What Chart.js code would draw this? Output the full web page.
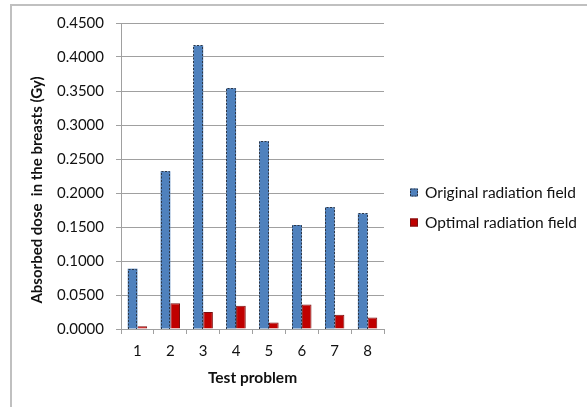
<!DOCTYPE html>
<html>
<head>
<meta charset="utf-8">
<script src="https://cdn.jsdelivr.net/npm/chart.js@4/dist/chart.umd.min.js"></script>
<style>
  html, body { margin: 0; padding: 0; background: #fff; }
  #wrap { position: relative; width: 587px; height: 407px; }
</style>
</head>
<body>
<div id="wrap"><canvas id="c" width="587" height="407"></canvas></div>
<script>
// Absorbed dose per test problem, two radiation field setups
const categories = ['1', '2', '3', '4', '5', '6', '7', '8'];
const originalField = [0.0887, 0.232, 0.417, 0.354, 0.276, 0.153, 0.179, 0.170];
const optimalField = [0.004, 0.038, 0.025, 0.0343, 0.0097, 0.036, 0.021, 0.017];
const seriesNames = ['Original radiation field', 'Optimal radiation field'];
const yTitle = 'Absorbed dose  in the breasts (Gy)';
const xTitle = 'Test problem';

const FONT = 'Lato, "Open Sans", sans-serif';
const GRID = '#a0a0a0';
const BLUE = '#4f81bd';
const RED = '#c00000';
const TEXT = '#111111';

// Outer frame: only top and left edges visible
const framePlugin = {
  id: 'frame',
  beforeDraw(chart) {
    const ctx = chart.ctx;
    ctx.save();
    ctx.fillStyle = '#fff';
    ctx.fillRect(0, 0, chart.width, chart.height);
    ctx.strokeStyle = '#c0c0c0';
    ctx.lineWidth = 2;
    ctx.beginPath();
    ctx.moveTo(11, chart.height);
    ctx.lineTo(11, 5);
    ctx.lineTo(chart.width, 5);
    ctx.stroke();
    ctx.restore();
  }
};

// Dotted outline around the blue bars
const dashedOutline = {
  id: 'dashedOutline',
  afterDatasetsDraw(chart) {
    const ctx = chart.ctx;
    const meta = chart.getDatasetMeta(0);
    ctx.save();
    ctx.strokeStyle = '#2c3646';
    ctx.lineWidth = 1;
    ctx.setLineDash([2, 1.5]);
    meta.data.forEach(bar => {
      const p = bar.getProps(['x', 'y', 'base', 'width'], true);
      const l = Math.round(p.x - p.width / 2) + 0.5;
      const r = Math.round(p.x + p.width / 2) - 0.5;
      const t = Math.round(p.y) + 0.5;
      const b = Math.round(p.base);
      ctx.beginPath();
      ctx.moveTo(l, b);
      ctx.lineTo(l, t);
      ctx.lineTo(r, t);
      ctx.lineTo(r, b);
      ctx.stroke();
    });
    ctx.restore();
  }
};

// Axis titles and the side legend
const labelsPlugin = {
  id: 'sideLabels',
  afterDraw(chart) {
    const ctx = chart.ctx;
    const area = chart.chartArea;
    ctx.save();
    ctx.fillStyle = TEXT;
    ctx.font = 'bold 15px ' + FONT;
    ctx.textAlign = 'center';
    ctx.textBaseline = 'middle';
    ctx.save();
    ctx.translate(37, 190);
    ctx.rotate(-Math.PI / 2);
    ctx.fillText(yTitle, 0, 0);
    ctx.restore();
    ctx.font = 'bold 15.5px ' + FONT;
    ctx.fillText(xTitle, (area.left + area.right) / 2, 378);

    // legend
    ctx.font = '15.5px ' + FONT;
    ctx.textAlign = 'left';
    const rows = [192.5, 222.5];
    chart.data.datasets.forEach((ds, i) => {
      const y = rows[i];
      ctx.fillStyle = ds.backgroundColor;
      ctx.fillRect(410, y - 4, 8, 8);
      ctx.lineWidth = 1;
      if (i === 0) {
        ctx.strokeStyle = '#2c3646';
        ctx.setLineDash([2, 1]);
      } else {
        ctx.strokeStyle = '#7a1010';
        ctx.setLineDash([]);
      }
      ctx.strokeRect(410.5, y - 3.5, 7, 7);
      ctx.setLineDash([]);
      ctx.fillStyle = TEXT;
      ctx.fillText(ds.label, 425, y + 0.5);
    });
    ctx.restore();
  }
};

new Chart(document.getElementById('c'), {
  type: 'bar',
  data: {
    labels: categories,
    datasets: [
      {
        label: seriesNames[0],
        data: originalField,
        backgroundColor: BLUE,
        borderWidth: 0
      },
      {
        label: seriesNames[1],
        data: optimalField,
        backgroundColor: RED,
        borderColor: '#7a1010',
        borderWidth: 1
      }
    ]
  },
  options: {
    responsive: false,
    animation: false,
    devicePixelRatio: 1,
    layout: { padding: { top: 23, right: 203, bottom: 0, left: 0 } },
    datasets: {
      bar: { categoryPercentage: 0.59, barPercentage: 1 }
    },
    plugins: {
      legend: { display: false },
      tooltip: { enabled: false },
      title: { display: false }
    },
    scales: {
      x: {
        grid: {
          display: true,
          drawOnChartArea: false,
          drawTicks: true,
          tickLength: 5,
          color: GRID,
          offset: true
        },
        border: { color: GRID, width: 1 },
        ticks: {
          color: TEXT,
          font: { family: FONT, size: 15 },
          padding: 8
        },
        afterFit(scale) { scale.height = 78; }
      },
      y: {
        min: 0,
        max: 0.45,
        grid: {
          color: GRID,
          tickLength: 5,
          drawTicks: true
        },
        border: { color: GRID, width: 1 },
        ticks: {
          stepSize: 0.05,
          color: TEXT,
          font: { family: FONT, size: 15 },
          padding: 12,
          callback: v => Number(v).toFixed(4)
        },
        afterFit(scale) { scale.width = 121; }
      }
    }
  },
  plugins: [framePlugin, dashedOutline, labelsPlugin]
});
</script>
</body>
</html>
